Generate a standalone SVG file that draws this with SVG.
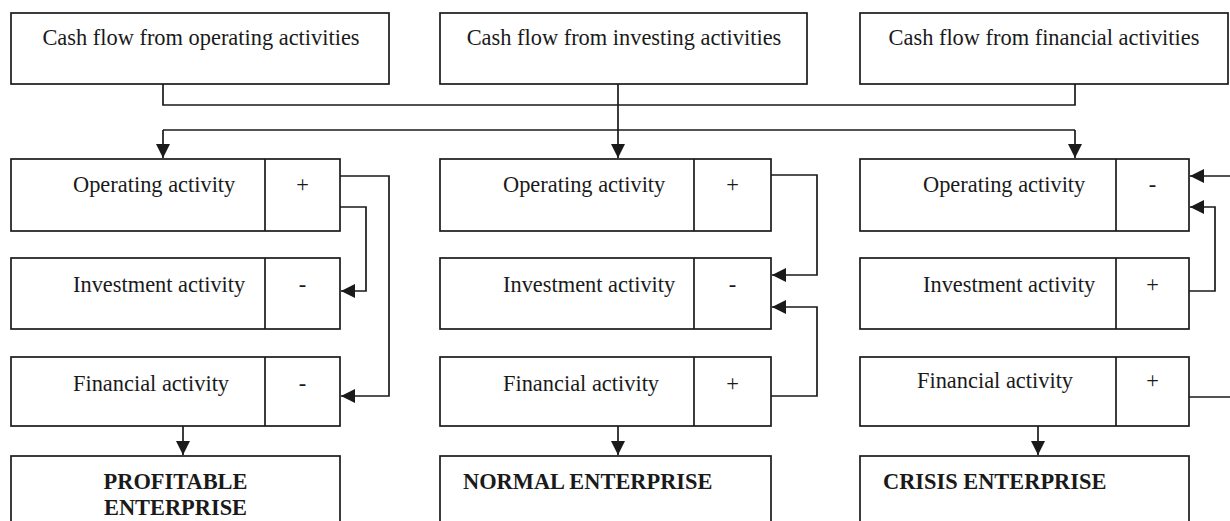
<svg xmlns="http://www.w3.org/2000/svg" width="1230" height="521" viewBox="0 0 1230 521">
<style>
.box{fill:#fff;stroke:#1a1a1a;stroke-width:1.7}
.div{stroke:#1a1a1a;stroke-width:1.7}
.t{font-family:"Liberation Serif","Times New Roman",serif;font-size:22.4px;fill:#1a1a1a}
.c{text-anchor:middle}
.b{font-weight:bold}
.con{fill:none;stroke:#1a1a1a;stroke-width:1.7}
</style>
<defs>
<marker id="ah" viewBox="0 0 12 12" refX="12" refY="6" markerWidth="15" markerHeight="14" markerUnits="userSpaceOnUse" orient="auto">
<path d="M0,0 L12,6 L0,12 z" fill="#1a1a1a"/>
</marker>
</defs>
<rect width="1230" height="521" fill="#fff"/>

<g id="cf-operating"><rect class="box" x="11" y="13" width="378" height="71"/><text class="t c" x="201" y="45">Cash flow from operating activities</text></g>
<g id="cf-investing"><rect class="box" x="440" y="13" width="367" height="71"/><text class="t c" x="624" y="45">Cash flow from investing activities</text></g>
<g id="cf-financial"><rect class="box" x="860" y="13" width="368" height="71"/><text class="t c" x="1044" y="45">Cash flow from financial activities</text></g>

<g id="p-operating"><rect class="box" x="11" y="159" width="329" height="72"/><line class="div" x1="265" y1="159" x2="265" y2="231"/><text class="t" x="73" y="192">Operating activity</text><text class="t c" x="302.5" y="192">+</text></g>
<g id="p-investment"><rect class="box" x="11" y="258" width="329" height="71"/><line class="div" x1="265" y1="258" x2="265" y2="329"/><text class="t" x="73" y="292">Investment activity</text><text class="t c" x="302.5" y="292">-</text></g>
<g id="p-financial"><rect class="box" x="11" y="357" width="329" height="69"/><line class="div" x1="265" y1="357" x2="265" y2="426"/><text class="t" x="73" y="391">Financial activity</text><text class="t c" x="302.5" y="391">-</text></g>
<g id="p-result"><rect class="box" x="11" y="456" width="329" height="80"/><text class="t c b" x="175.5" y="489">PROFITABLE</text><text class="t c b" x="175.5" y="515">ENTERPRISE</text></g>

<g id="n-operating"><rect class="box" x="440" y="159" width="331" height="72"/><line class="div" x1="694" y1="159" x2="694" y2="231"/><text class="t" x="503" y="192">Operating activity</text><text class="t c" x="732.5" y="192">+</text></g>
<g id="n-investment"><rect class="box" x="440" y="258" width="331" height="71"/><line class="div" x1="694" y1="258" x2="694" y2="329"/><text class="t" x="503" y="292">Investment activity</text><text class="t c" x="732.5" y="292">-</text></g>
<g id="n-financial"><rect class="box" x="440" y="357" width="331" height="69"/><line class="div" x1="694" y1="357" x2="694" y2="426"/><text class="t" x="503" y="391">Financial activity</text><text class="t c" x="732.5" y="391">+</text></g>
<g id="n-result"><rect class="box" x="440" y="456" width="331" height="80"/><text class="t b" x="463" y="489">NORMAL ENTERPRISE</text></g>

<g id="c-operating"><rect class="box" x="860" y="159" width="329" height="72"/><line class="div" x1="1116" y1="159" x2="1116" y2="231"/><text class="t" x="923" y="192">Operating activity</text><text class="t c" x="1152.5" y="192">-</text></g>
<g id="c-investment"><rect class="box" x="860" y="258" width="329" height="71"/><line class="div" x1="1116" y1="258" x2="1116" y2="329"/><text class="t" x="923" y="292">Investment activity</text><text class="t c" x="1152.5" y="292">+</text></g>
<g id="c-financial"><rect class="box" x="860" y="357" width="329" height="69"/><line class="div" x1="1116" y1="357" x2="1116" y2="426"/><text class="t" x="917" y="388">Financial activity</text><text class="t c" x="1152.5" y="388">+</text></g>
<g id="c-result"><rect class="box" x="860" y="456" width="329" height="80"/><text class="t b" x="883" y="489">CRISIS ENTERPRISE</text></g>

<g id="connectors">
<path class="con" d="M163,84 V105 H1075 V84"/>
<path class="con" d="M618,84 V158" marker-end="url(#ah)"/>
<path class="con" d="M163,130 H1075"/>
<path class="con" d="M163,130 V158" marker-end="url(#ah)"/>
<path class="con" d="M1075,130 V158" marker-end="url(#ah)"/>
<path class="con" d="M340,176 H389 V396 H341" marker-end="url(#ah)"/>
<path class="con" d="M340,207 H366 V291 H341" marker-end="url(#ah)"/>
<path class="con" d="M771,175 H817 V275 H772" marker-end="url(#ah)"/>
<path class="con" d="M771,396 H817 V307 H772" marker-end="url(#ah)"/>
<path class="con" d="M1230,176 H1190" marker-end="url(#ah)"/>
<path class="con" d="M1189,291 H1215 V207 H1190" marker-end="url(#ah)"/>
<path class="con" d="M1189,397 H1230"/>
<path class="con" d="M183,426 V455" marker-end="url(#ah)"/>
<path class="con" d="M618,426 V455" marker-end="url(#ah)"/>
<path class="con" d="M1038,426 V455" marker-end="url(#ah)"/>
</g>
</svg>
